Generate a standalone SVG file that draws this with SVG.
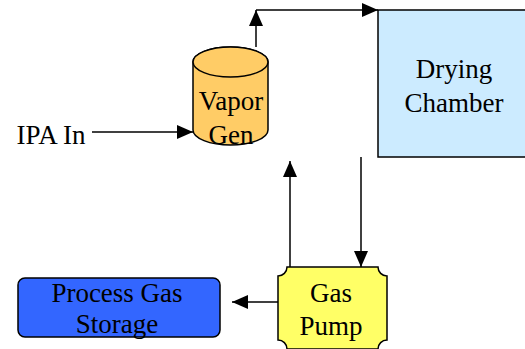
<svg xmlns="http://www.w3.org/2000/svg" width="525" height="349" viewBox="0 0 525 349">
  <style>
    .lbl { font-family: 'Liberation Serif', serif !important; font-size: 27px; fill: #000; text-anchor: middle; }
    .edge { fill: none; stroke: #000; stroke-width: 1.5; }
    .shape { stroke: #000; stroke-width: 1.5; }
  </style>
  <defs>
    <marker id="arrow" markerUnits="userSpaceOnUse" markerWidth="17" markerHeight="15" refX="16" refY="7" orient="auto">
      <path d="M0,0 L16,7 L0,14 Z" fill="#000"/>
    </marker>
  </defs>

  <rect width="525" height="349" fill="#fff"/>

  <!-- connectors -->
  <g id="connectors">
    <line class="edge" x1="92" y1="132" x2="193" y2="132" marker-end="url(#arrow)"/>
    <line class="edge" x1="256" y1="47" x2="256" y2="10" marker-end="url(#arrow)"/>
    <line class="edge" x1="256" y1="10" x2="378" y2="10" marker-end="url(#arrow)"/>
    <line class="edge" x1="361" y1="157" x2="361" y2="267" marker-end="url(#arrow)"/>
    <line class="edge" x1="290" y1="267" x2="290" y2="161" marker-end="url(#arrow)"/>
    <line class="edge" x1="278" y1="302" x2="232" y2="302" marker-end="url(#arrow)"/>
  </g>

  <!-- IPA inlet label -->
  <g id="ipa-in">
    <text class="lbl" style="font-family:'Liberation Serif',serif" x="51" y="144">IPA In</text>
  </g>

  <!-- vapor generator: cylinder -->
  <g id="vapor-gen">
    <path class="shape" fill="#FFCC66" d="M193,62 V130 A37.5,15 0 0 0 268,130 V62 A37.5,15 0 0 0 193,62 Z"/>
    <ellipse class="shape" fill="#FFCC66" cx="230.5" cy="62" rx="37.5" ry="15"/>
    <text class="lbl" style="font-family:'Liberation Serif',serif" x="231" y="110">Vapor</text>
    <text class="lbl" style="font-family:'Liberation Serif',serif" x="231" y="144">Gen</text>
  </g>

  <!-- drying chamber -->
  <g id="drying-chamber">
    <rect class="shape" fill="#CCEBFF" x="378" y="10" width="160" height="147"/>
    <text class="lbl" style="font-family:'Liberation Serif',serif" x="454" y="78">Drying</text>
    <text class="lbl" style="font-family:'Liberation Serif',serif" x="454" y="112">Chamber</text>
  </g>

  <!-- gas pump: plaque with concave corners -->
  <g id="gas-pump">
    <path class="shape" fill="#FFFF66" d="M287,267 H378 A9,9 0 0 0 387,276 V340 A9,9 0 0 0 378,349 H287 A9,9 0 0 0 278,340 V276 A9,9 0 0 0 287,267 Z"/>
    <text class="lbl" style="font-family:'Liberation Serif',serif" x="331" y="302">Gas</text>
    <text class="lbl" style="font-family:'Liberation Serif',serif" x="331" y="335">Pump</text>
  </g>

  <!-- process gas storage -->
  <g id="process-gas-storage">
    <rect class="shape" fill="#3366FF" x="18" y="278" width="202" height="59" rx="7" ry="7"/>
    <text class="lbl" style="font-family:'Liberation Serif',serif" x="117" y="302">Process Gas</text>
    <text class="lbl" style="font-family:'Liberation Serif',serif" x="117" y="333">Storage</text>
  </g>
</svg>
